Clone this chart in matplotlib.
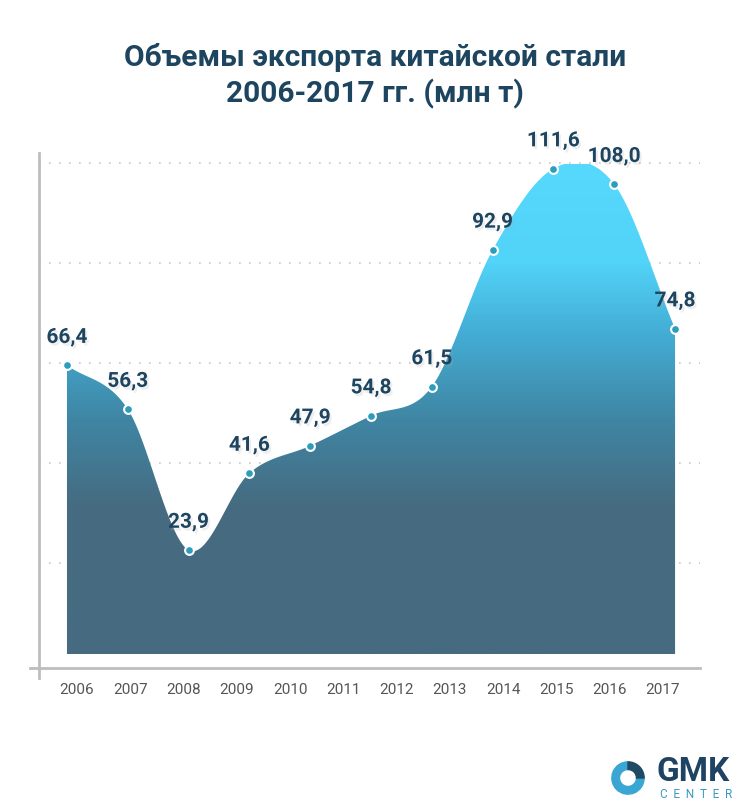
import numpy as np
import matplotlib
matplotlib.use("Agg")
import matplotlib.pyplot as plt
import matplotlib.patheffects as pe
from matplotlib.colors import LinearSegmentedColormap
from matplotlib.patches import Wedge

plt.rcParams['font.family'] = ['Roboto', 'DejaVu Sans']

# data (11 values as in the source picture)
values = [66.4, 56.3, 23.9, 41.6, 47.9, 54.8, 61.5, 92.9, 111.6, 108.0, 74.8]
value_labels = ['66,4', '56,3', '23,9', '41,6', '47,9', '54,8', '61,5', '92,9', '111,6', '108,0', '74,8']
years = ['2006', '2007', '2008', '2009', '2010', '2011', '2012', '2013', '2014', '2015', '2016', '2017']
grid_levels = [20.9, 43.9, 66.9, 89.9, 112.9]

title = 'Объемы экспорта китайской стали\n2006-2017 гг. (млн т)'
navy = '#1e4560'


def catmull_rom(y, steps=60):
    # uniform Catmull-Rom spline through the points (x = 0..n-1)
    y = np.asarray(y, dtype=float)
    n = len(y)
    t = np.zeros(n)
    t[1:-1] = (y[2:] - y[:-2]) / 2
    t[0] = y[1] - y[0]
    t[-1] = y[-1] - y[-2]
    xs, ys = [], []
    for i in range(n - 1):
        s = np.linspace(0, 1, steps, endpoint=(i == n - 2))
        h00 = 2 * s**3 - 3 * s**2 + 1
        h10 = s**3 - 2 * s**2 + s
        h01 = -2 * s**3 + 3 * s**2
        h11 = s**3 - s**2
        xs.append(i + s)
        ys.append(h00 * y[i] + h10 * t[i] + h01 * y[i + 1] + h11 * t[i + 1])
    return np.concatenate(xs), np.concatenate(ys)


fig = plt.figure(figsize=(7.5, 8.07), dpi=100)
ax = fig.add_axes([39 / 750, (807 - 668) / 807, (700 - 39) / 750, (668 - 153) / 807])
ax.set_xlim(-0.46, 10.41)
ax.set_ylim(-3.2, 115.2)

# dotted grid
for g in grid_levels:
    ax.axhline(g, color='#c8c8c8', lw=1.2, ls=(0, (1, 5)), zorder=0)

# smooth area with vertical gradient
xs, ys = catmull_rom(values)
poly = ax.fill_between(xs, 0, ys, color='none', lw=0, zorder=1)
cmap = LinearSegmentedColormap.from_list('g', [
    (0.0, '#466b80'), (0.30, '#466b80'), (0.48, '#3f86a4'),
    (0.66, '#44aed6'), (0.80, '#52d3f8'), (1.0, '#56d9fc')])
grad = np.linspace(0, 1, 256).reshape(-1, 1)
im = ax.imshow(grad, extent=[-0.46, 10.41, 0, 112.5], origin='lower',
               aspect='auto', cmap=cmap, zorder=1)
im.set_clip_path(poly.get_paths()[0], transform=ax.transData)

# markers and labels
idx = np.arange(len(values))
ax.scatter(idx, values, s=40, color='#2c9dbd', edgecolors='white', linewidths=1.5, zorder=3)
for i, (v, lab) in enumerate(zip(values, value_labels)):
    ax.annotate(lab, (i, v), xytext=(0, 20), textcoords='offset points',
                ha='center', va='center', fontsize=15, fontweight='bold', color=navy, zorder=4,
                path_effects=[pe.withSimplePatchShadow(offset=(1.5, -2), shadow_rgbFace='#aaaaaa', alpha=0.2)])

# axes lines
for s in ['top', 'right']:
    ax.spines[s].set_visible(False)
for s in ['left', 'bottom']:
    ax.spines[s].set_color('#bdbdbd')
    ax.spines[s].set_linewidth(2)
ax.spines['left'].set_bounds(-5.5, 115.2)
ax.set_yticks([])
ax.set_xticks(np.linspace(0.164, 9.80, len(years)))
ax.set_xticklabels(years, fontsize=11, color='#555555')
ax.tick_params(axis='x', length=0, pad=11)
ax.patch.set_alpha(0)
# small tick left of the spine
ax.plot([-0.6, -0.46], [-3.2, -3.2], color='#bdbdbd', lw=2, clip_on=False)

fig.text(0.5, (807 - 76) / 807, title, ha='center', va='center', fontsize=21.5, fontweight='bold',
         color=navy, linespacing=1.3)

# logo
lax = fig.add_axes([611 / 750, (807 - 795) / 807, 34 / 750, 34 / 807])
lax.set_xlim(-1, 1)
lax.set_ylim(-1, 1)
lax.set_aspect('equal')
lax.axis('off')
lax.add_patch(Wedge((0, 0), 0.95, 90, 360, width=0.45, color='#39a6d3'))
lax.add_patch(Wedge((0, 0), 0.95, 0, 90, width=0.45, color='#1f4a66'))
fig.text(657 / 750, (807 - 772) / 807, 'GMK', fontsize=24, fontweight='bold', color='#1f4463',
         ha='left', va='center')
fig.text(660 / 750, (807 - 795) / 807, 'C  E  N  T  E  R', fontsize=8.5, color='#3a9bc0',
         ha='left', va='center')

fig.savefig('out.png', dpi=100, facecolor='white')
